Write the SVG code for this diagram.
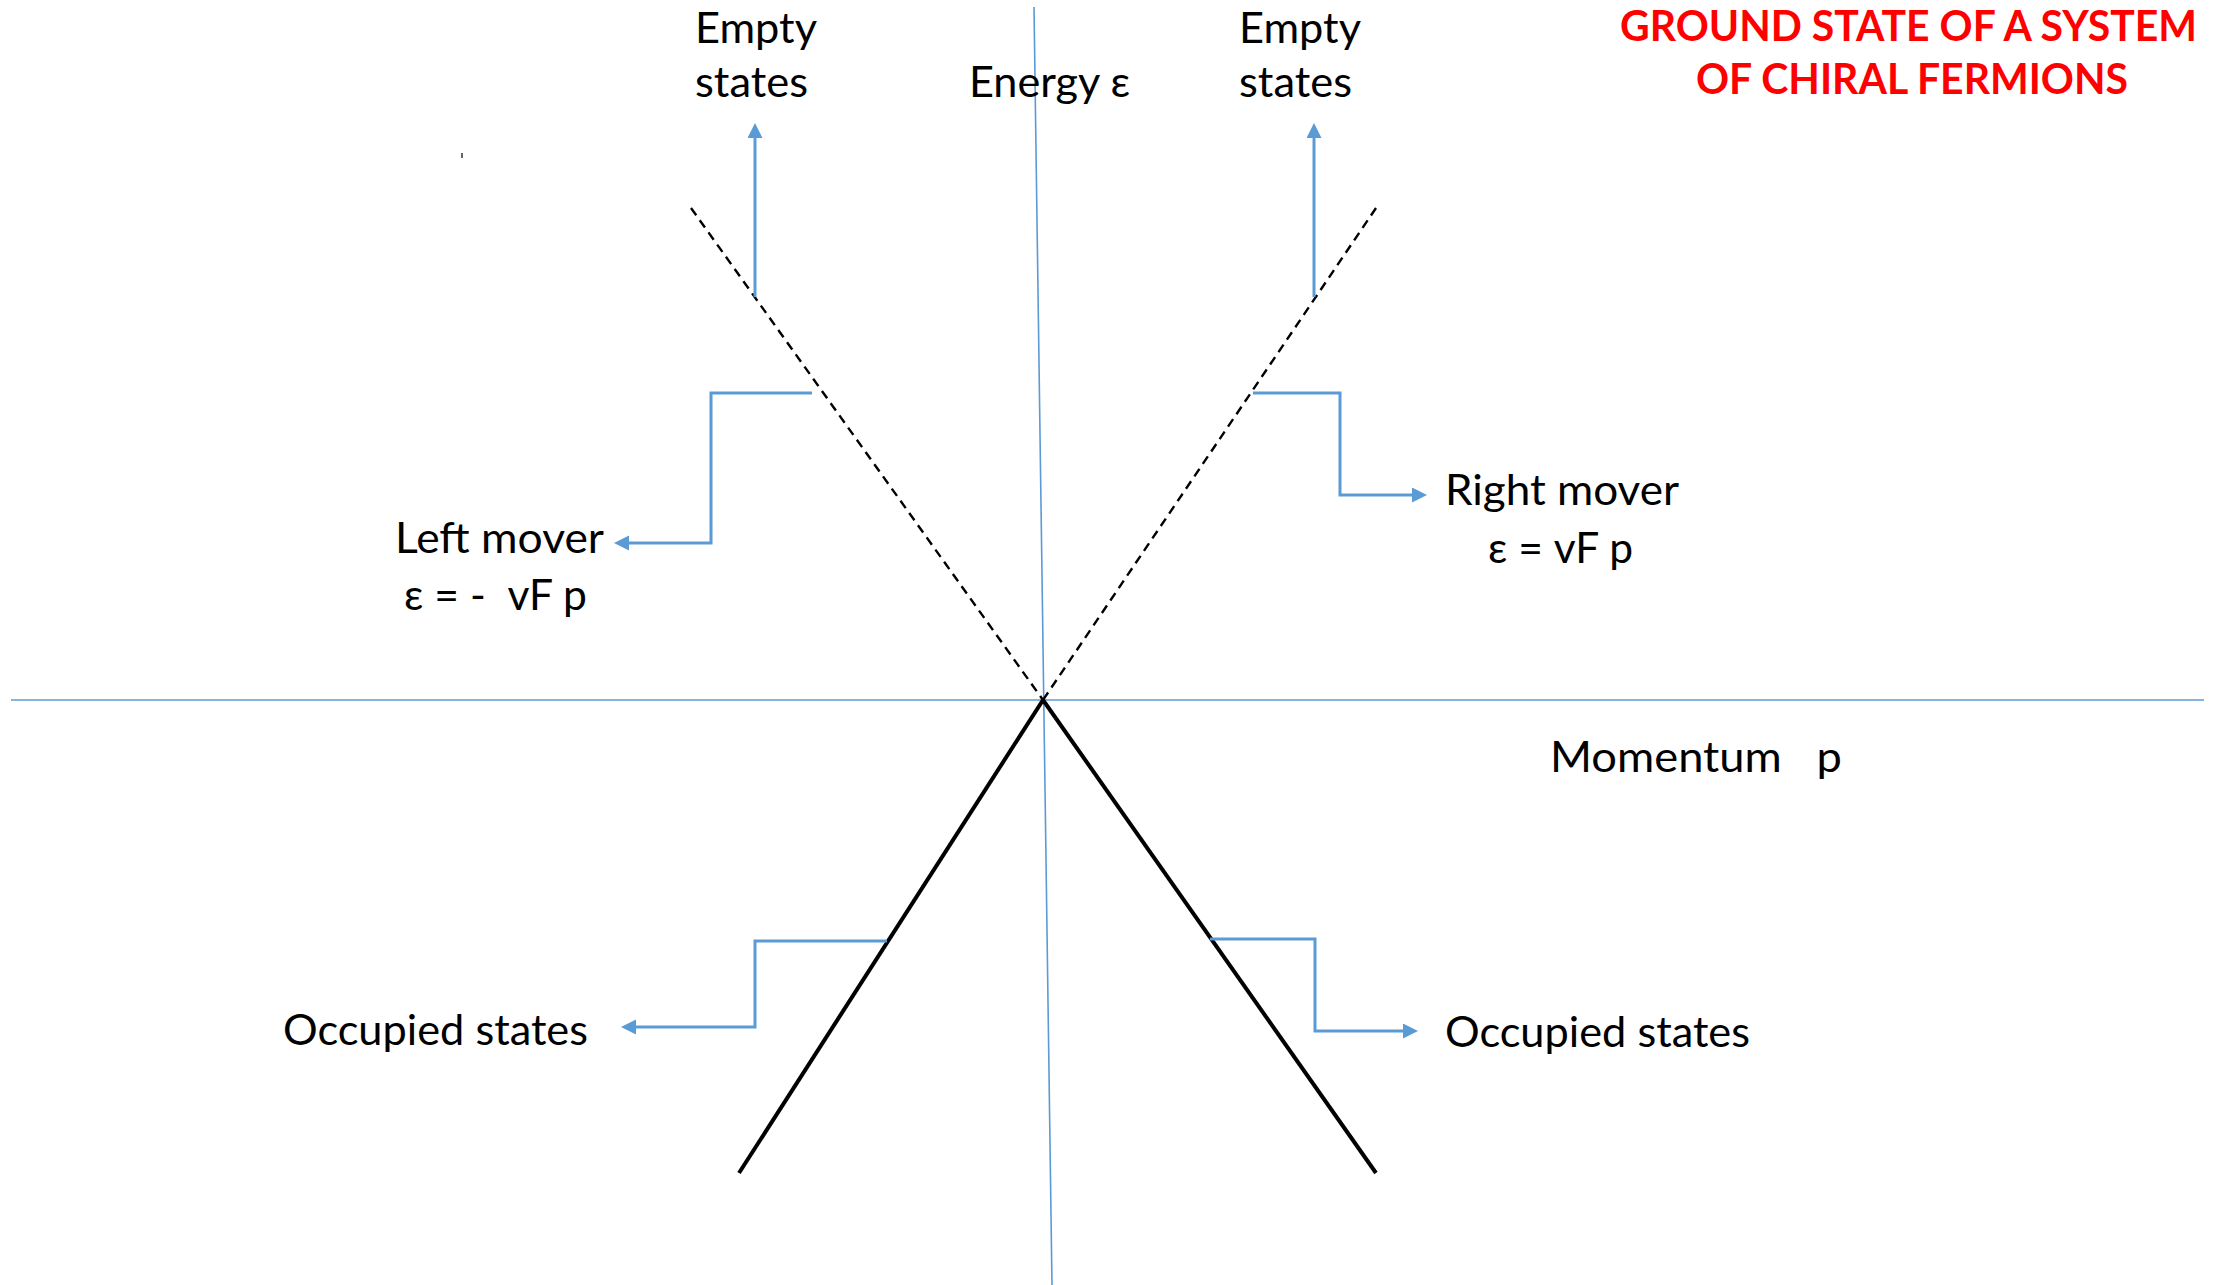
<svg xmlns="http://www.w3.org/2000/svg" width="2213" height="1285" viewBox="0 0 2213 1285">
<style>
.t{font-family:Lato,"Open Sans","Liberation Sans",sans-serif;font-size:43px;fill:#000;white-space:pre}
.title{font-family:Lato,"Open Sans","Liberation Sans",sans-serif;font-size:42px;font-weight:700;fill:#FF0000}
.axis{stroke:#5B9BD5;stroke-width:1.6;fill:none}
.conn{stroke:#5B9BD5;stroke-width:3;fill:none;marker-end:url(#arr)}
.dash{stroke:#000;stroke-width:2.4;stroke-dasharray:9 6;fill:none}
.solid{stroke:#000;stroke-width:4;fill:none}
</style>
<defs>
<marker id="arr" markerUnits="userSpaceOnUse" markerWidth="16" markerHeight="16" refX="5" refY="7.5" orient="auto">
<path d="M0,0 L15,7.5 L0,15 z" fill="#5B9BD5"/>
</marker>
</defs>
<rect width="2213" height="1285" fill="#fff"/>
<g id="axes">
<line class="axis" x1="11" y1="700" x2="2204" y2="700"/>
<line class="axis" x1="1034" y1="7" x2="1052" y2="1285"/>
</g>
<g id="dispersion">
<line class="dash" x1="691" y1="208" x2="1043" y2="700"/>
<line class="dash" x1="1376" y1="208" x2="1043" y2="700"/>
<line class="solid" x1="1043" y1="700" x2="739" y2="1173"/>
<line class="solid" x1="1043" y1="700" x2="1376" y2="1173"/>
</g>
<g id="connectors">
<path class="conn" d="M755,297 L755,133"/>
<path class="conn" d="M1314,297 L1314,133"/>
<path class="conn" d="M812,393 L711,393 L711,543 L624,543"/>
<path class="conn" d="M1253,393 L1340,393 L1340,495 L1417,495"/>
<path class="conn" d="M887,941 L755,941 L755,1027 L631,1027"/>
<path class="conn" d="M1210,939 L1315,939 L1315,1031 L1408,1031"/>
</g>
<g id="title">
<text class="title" x="1620" y="41" textLength="577" lengthAdjust="spacingAndGlyphs">GROUND STATE OF A SYSTEM</text>
<text class="title" x="1696" y="94" textLength="432" lengthAdjust="spacingAndGlyphs">OF CHIRAL FERMIONS</text>
</g>
<g id="empty-left">
<text class="t" x="695" y="43" textLength="122" lengthAdjust="spacingAndGlyphs">Empty</text>
<text class="t" x="695" y="97" textLength="113" lengthAdjust="spacingAndGlyphs">states</text>
</g>
<g id="energy-label">
<text class="t" x="969" y="97" textLength="161" lengthAdjust="spacingAndGlyphs">Energy ε</text>
</g>
<g id="empty-right">
<text class="t" x="1239" y="43" textLength="122" lengthAdjust="spacingAndGlyphs">Empty</text>
<text class="t" x="1239" y="97" textLength="113" lengthAdjust="spacingAndGlyphs">states</text>
</g>
<g id="left-mover">
<text class="t" x="395" y="553" textLength="209" lengthAdjust="spacingAndGlyphs">Left mover</text>
<text class="t" x="404" y="610" textLength="183" lengthAdjust="spacingAndGlyphs">ε = -  vF p</text>
</g>
<g id="right-mover">
<text class="t" x="1445" y="505" textLength="234" lengthAdjust="spacingAndGlyphs">Right mover</text>
<text class="t" x="1488" y="563" textLength="145" lengthAdjust="spacingAndGlyphs">ε = vF p</text>
</g>
<g id="momentum-label">
<text class="t" x="1550" y="772" textLength="292" lengthAdjust="spacingAndGlyphs">Momentum   p</text>
</g>
<g id="occupied-left">
<text class="t" x="283" y="1045" textLength="305" lengthAdjust="spacingAndGlyphs">Occupied states</text>
</g>
<g id="occupied-right">
<text class="t" x="1445" y="1047" textLength="305" lengthAdjust="spacingAndGlyphs">Occupied states</text>
</g>
<line x1="462" y1="153" x2="462" y2="158" stroke="#333" stroke-width="1.5"/>
</svg>
